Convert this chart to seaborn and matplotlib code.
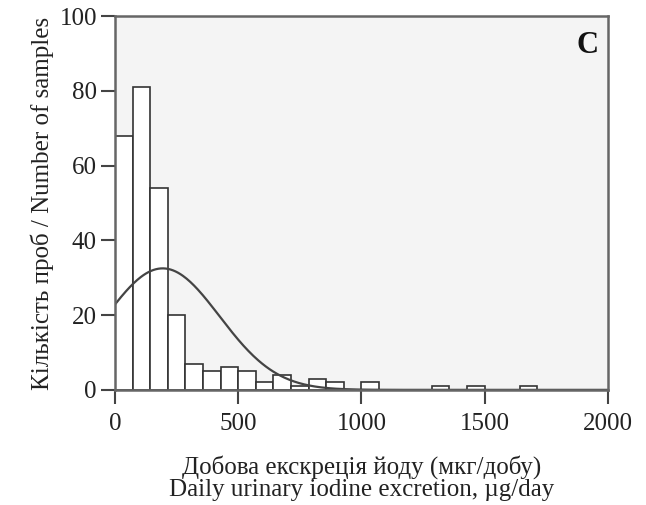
import numpy as np
import pandas as pd
import matplotlib
matplotlib.use("Agg")
import matplotlib.pyplot as plt
import seaborn as sns

# Data
bin_width = 500 / 7
counts = [68, 81, 54, 20, 7, 5, 6, 5, 2, 4, 1, 3, 2, 0, 2, 0, 0, 0, 1, 0, 1, 0, 0, 1]
x_ticks = [0, 500, 1000, 1500, 2000]
y_ticks = [0, 20, 40, 60, 80, 100]
xlabel = "Добова екскреція йоду (мкг/добу)\nDaily urinary iodine excretion, µg/day"
ylabel = "Кількість проб / Number of samples"
panel = "C"

edges = np.arange(len(counts) + 1) * bin_width
centers = (edges[:-1] + edges[1:]) / 2
df = pd.DataFrame({"value": centers, "count": counts})

# fitted normal curve from the histogram data
vals = np.repeat(centers, counts)
mu, sd = vals.mean(), vals.std()
xs = np.linspace(0, 2000, 400)
ys = len(vals) * bin_width * np.exp(-(xs - mu) ** 2 / (2 * sd ** 2)) / (sd * np.sqrt(2 * np.pi))
curve = pd.DataFrame({"x": xs, "y": ys})

sns.set_theme(style="ticks")
plt.rcParams["font.family"] = ["Liberation Serif", "DejaVu Serif"]

fig = plt.figure(figsize=(6.46, 5.05), dpi=100)
ax = fig.add_axes([0.178, 0.228, 0.763, 0.740])
ax.set_facecolor("#f4f4f4")

sns.histplot(data=df, x="value", weights="count", binwidth=bin_width,
             binrange=(0, edges[-1]), ax=ax,
             color="white", edgecolor="#333333", linewidth=1.2, alpha=1)
sns.lineplot(data=curve, x="x", y="y", ax=ax, color="#444444", linewidth=1.6)

ax.set_xlim(0, 2000)
ax.set_ylim(0, 100)
ax.set_xticks(x_ticks)
ax.set_yticks(y_ticks)
ax.tick_params(axis="both", direction="out", length=10, width=1.5, color="#444444",
               labelsize=18, labelcolor="#222222")
ax.tick_params(axis="x", pad=7)
ax.tick_params(axis="y", pad=3)
for s in ax.spines.values():
    s.set_visible(True)
    s.set_color("#666666")
    s.set_linewidth(1.8)
ax.set_xlabel(xlabel, fontsize=18, color="#222222", labelpad=14, linespacing=1.02)
ax.set_ylabel(ylabel, fontsize=18, color="#222222", labelpad=4)
ax.text(0.959, 0.922, panel, transform=ax.transAxes, ha="center", va="center",
        fontsize=22, color="#111111", fontweight="bold")

fig.savefig("out.png", dpi=100, facecolor="white")
